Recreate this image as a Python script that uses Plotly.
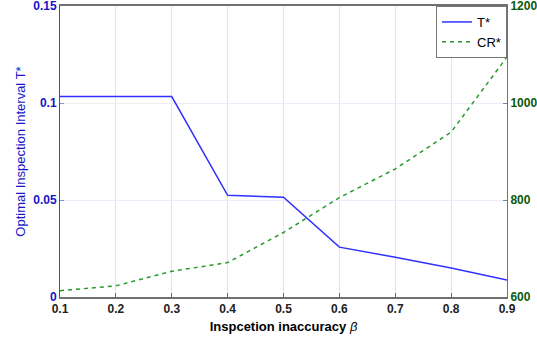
import plotly.graph_objects as go

beta = [0.1, 0.2, 0.3, 0.4, 0.5, 0.6, 0.7, 0.8, 0.9]
T_star = [0.1033, 0.1033, 0.1033, 0.0524, 0.0514, 0.0257, 0.0205, 0.0149, 0.0087]
CR_star = [613, 623, 653, 671, 733, 805, 864, 940, 1095]

x_ticks = [0.1, 0.2, 0.3, 0.4, 0.5, 0.6, 0.7, 0.8, 0.9]
y1_ticks = [0, 0.05, 0.1, 0.15]
y2_ticks = [600, 800, 1000, 1200]

fig = go.Figure()
fig.add_trace(go.Scatter(x=beta, y=T_star, mode="lines", name="T*",
                         line=dict(color="#3030ff", width=1.5), yaxis="y"))
fig.add_trace(go.Scatter(x=beta, y=CR_star, mode="lines", name="CR*",
                         line=dict(color="#2a9a2a", width=1.5, dash="4px,4px"), yaxis="y2"))

fig.update_layout(
    width=537, height=345,
    margin=dict(l=60, r=30, t=6, b=48, autoexpand=False),
    paper_bgcolor="white", plot_bgcolor="white",
    font=dict(family="Liberation Sans", size=12),
    showlegend=True,
    legend=dict(x=1.0, y=1.0, xanchor="right", yanchor="top",
                bordercolor="#777777", borderwidth=1, bgcolor="white",
                font=dict(size=13, color="black"),
                itemwidth=30, tracegroupgap=0),
    xaxis=dict(range=[0.1, 0.9], tickvals=x_ticks, automargin=False,
               ticktext=["<b>%g</b>" % v for v in x_ticks],
               tickfont=dict(color="#222222", size=12),
               ticklabeloverflow="allow",
               showgrid=True, gridcolor="#e4e4e4", gridwidth=1,
               showline=True, linecolor="#707070", linewidth=2, mirror=True,
               ticks="inside", ticklen=4, tickcolor="#707070",
               zeroline=False,
               title=dict(text="<b>Inspcetion inaccuracy</b> <i>β</i>",
                          font=dict(size=13, color="black"), standoff=6)),
    yaxis=dict(range=[0, 0.15], tickvals=y1_ticks, automargin=False,
               ticktext=["<b>%g</b>" % v for v in y1_ticks],
               tickfont=dict(color="#1515c8", size=12),
               ticklabeloverflow="allow",
               showgrid=True, gridcolor="#ececfa", gridwidth=1,
               showline=True, linecolor="#4040e0", linewidth=1,
               ticks="inside", ticklen=4, tickcolor="#9090d0",
               zeroline=False,
               title=dict(text="Optimal Inspection Interval T*",
                          font=dict(size=13, color="#1515c8"), standoff=4)),
    yaxis2=dict(range=[600, 1200], tickvals=y2_ticks, automargin=False,
                ticktext=["<b>%g</b>" % v for v in y2_ticks],
                tickfont=dict(color="#0a5a0a", size=12),
                ticklabeloverflow="allow",
                overlaying="y", side="right", showgrid=False,
                showline=True, linecolor="#3a9a3a", linewidth=1,
                ticks="inside", ticklen=4, tickcolor="#6a8aa0",
                zeroline=False),
)
fig.write_html("out.html")
